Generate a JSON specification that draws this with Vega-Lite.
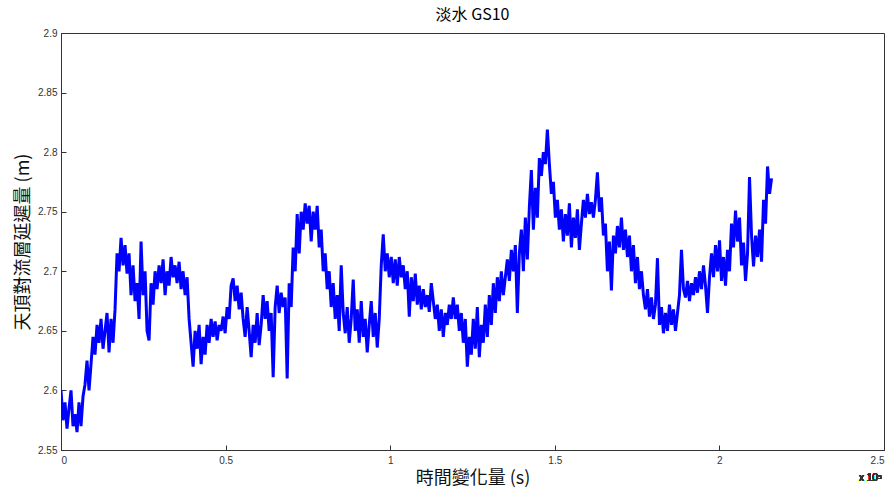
{
  "$schema": "https://vega.github.io/schema/vega-lite/v6.json",
  "autosize": {"type": "none"},
  "padding": {"left": 61, "top": 33, "right": 9, "bottom": 45},
  "width": 823,
  "height": 417,
  "background": "white",
  "title": {"text": "淡水 GS10", "font": "Noto Sans CJK TC", "fontSize": 16, "fontWeight": "normal", "color": "#000", "offset": 5, "anchor": "middle"},
  "config": {
    "view": {"stroke": "#333", "strokeWidth": 1},
    "axis": {"grid": false, "domainColor": "#333", "tickColor": "#333", "tickSize": -5, "labelFont": "Liberation Sans", "labelFontSize": 10, "labelColor": "#333", "titleFont": "Noto Sans CJK TC", "titleFontSize": 18, "titleFontWeight": "normal", "titleColor": "#111"}
  },
  "data": {"values": [
    {"t":0,"v":2.600},{"t":608,"v":2.575},{"t":1216,"v":2.590},{"t":1824,"v":2.568},{"t":2432,"v":2.585},{"t":3040,"v":2.600},{"t":3648,"v":2.570},{"t":4256,"v":2.580},{"t":4864,"v":2.565},{"t":5472,"v":2.590},
    {"t":6080,"v":2.570},{"t":6688,"v":2.595},{"t":7296,"v":2.605},{"t":7904,"v":2.625},{"t":8512,"v":2.600},{"t":9120,"v":2.622},{"t":9728,"v":2.645},{"t":10336,"v":2.630},{"t":10944,"v":2.655},{"t":11552,"v":2.640},
    {"t":12160,"v":2.660},{"t":12768,"v":2.635},{"t":13376,"v":2.650},{"t":13984,"v":2.665},{"t":14592,"v":2.632},{"t":15200,"v":2.660},{"t":15808,"v":2.640},{"t":16416,"v":2.668},{"t":17024,"v":2.715},{"t":17632,"v":2.700},
    {"t":18240,"v":2.728},{"t":18848,"v":2.705},{"t":19456,"v":2.722},{"t":20064,"v":2.698},{"t":20672,"v":2.715},{"t":21280,"v":2.680},{"t":21888,"v":2.705},{"t":22496,"v":2.675},{"t":23104,"v":2.690},{"t":23712,"v":2.660},
    {"t":24320,"v":2.725},{"t":24928,"v":2.680},{"t":25536,"v":2.700},{"t":26144,"v":2.650},{"t":26752,"v":2.642},{"t":27360,"v":2.690},{"t":27968,"v":2.672},{"t":28576,"v":2.700},{"t":29184,"v":2.685},{"t":29792,"v":2.705},
    {"t":30400,"v":2.690},{"t":31008,"v":2.710},{"t":31616,"v":2.680},{"t":32224,"v":2.700},{"t":32832,"v":2.688},{"t":33440,"v":2.712},{"t":34048,"v":2.695},{"t":34656,"v":2.705},{"t":35264,"v":2.690},{"t":35872,"v":2.708},
    {"t":36480,"v":2.685},{"t":37088,"v":2.700},{"t":37696,"v":2.680},{"t":38304,"v":2.695},{"t":38912,"v":2.660},{"t":39520,"v":2.640},{"t":40128,"v":2.620},{"t":40736,"v":2.650},{"t":41344,"v":2.635},{"t":41952,"v":2.655},
    {"t":42560,"v":2.622},{"t":43168,"v":2.645},{"t":43776,"v":2.630},{"t":44384,"v":2.655},{"t":44992,"v":2.640},{"t":45600,"v":2.660},{"t":46208,"v":2.645},{"t":46816,"v":2.658},{"t":47424,"v":2.642},{"t":48032,"v":2.655},
    {"t":48640,"v":2.650},{"t":49248,"v":2.662},{"t":49856,"v":2.648},{"t":50464,"v":2.670},{"t":51072,"v":2.660},{"t":51680,"v":2.688},{"t":52288,"v":2.694},{"t":52896,"v":2.675},{"t":53504,"v":2.688},{"t":54112,"v":2.668},
    {"t":54720,"v":2.682},{"t":55328,"v":2.660},{"t":55936,"v":2.645},{"t":56544,"v":2.670},{"t":57152,"v":2.650},{"t":57760,"v":2.628},{"t":58368,"v":2.655},{"t":58976,"v":2.640},{"t":59584,"v":2.665},{"t":60192,"v":2.638},
    {"t":60800,"v":2.655},{"t":61408,"v":2.680},{"t":62016,"v":2.660},{"t":62624,"v":2.675},{"t":63232,"v":2.650},{"t":63840,"v":2.665},{"t":64448,"v":2.611},{"t":65056,"v":2.670},{"t":65664,"v":2.688},{"t":66272,"v":2.665},
    {"t":66880,"v":2.682},{"t":67488,"v":2.670},{"t":68096,"v":2.678},{"t":68704,"v":2.610},{"t":69312,"v":2.690},{"t":69920,"v":2.670},{"t":70528,"v":2.720},{"t":71136,"v":2.700},{"t":71744,"v":2.748},{"t":72352,"v":2.715},
    {"t":72960,"v":2.750},{"t":73568,"v":2.735},{"t":74176,"v":2.757},{"t":74784,"v":2.740},{"t":75392,"v":2.755},{"t":76000,"v":2.725},{"t":76608,"v":2.750},{"t":77216,"v":2.735},{"t":77824,"v":2.755},{"t":78432,"v":2.720},
    {"t":79040,"v":2.735},{"t":79648,"v":2.700},{"t":80256,"v":2.715},{"t":80864,"v":2.685},{"t":81472,"v":2.700},{"t":82080,"v":2.670},{"t":82688,"v":2.690},{"t":83296,"v":2.660},{"t":83904,"v":2.680},{"t":84512,"v":2.650},
    {"t":85120,"v":2.705},{"t":85728,"v":2.665},{"t":86336,"v":2.648},{"t":86944,"v":2.670},{"t":87552,"v":2.640},{"t":88160,"v":2.660},{"t":88768,"v":2.693},{"t":89376,"v":2.650},{"t":89984,"v":2.668},{"t":90592,"v":2.640},
    {"t":91200,"v":2.675},{"t":91808,"v":2.645},{"t":92416,"v":2.660},{"t":93024,"v":2.632},{"t":93632,"v":2.655},{"t":94240,"v":2.675},{"t":94848,"v":2.645},{"t":95456,"v":2.665},{"t":96064,"v":2.636},{"t":96672,"v":2.660},
    {"t":97280,"v":2.705},{"t":97888,"v":2.731},{"t":98496,"v":2.700},{"t":99104,"v":2.715},{"t":99712,"v":2.695},{"t":100320,"v":2.712},{"t":100928,"v":2.690},{"t":101536,"v":2.710},{"t":102144,"v":2.688},{"t":102752,"v":2.712},
    {"t":103360,"v":2.695},{"t":103968,"v":2.705},{"t":104576,"v":2.685},{"t":105184,"v":2.700},{"t":105792,"v":2.662},{"t":106400,"v":2.695},{"t":107008,"v":2.675},{"t":107616,"v":2.698},{"t":108224,"v":2.672},{"t":108832,"v":2.688},
    {"t":109440,"v":2.668},{"t":110048,"v":2.685},{"t":110656,"v":2.670},{"t":111264,"v":2.680},{"t":111872,"v":2.666},{"t":112480,"v":2.690},{"t":113088,"v":2.675},{"t":113696,"v":2.660},{"t":114304,"v":2.672},{"t":114912,"v":2.650},
    {"t":115520,"v":2.668},{"t":116128,"v":2.645},{"t":116736,"v":2.665},{"t":117344,"v":2.655},{"t":117952,"v":2.672},{"t":118560,"v":2.660},{"t":119168,"v":2.678},{"t":119776,"v":2.660},{"t":120384,"v":2.672},{"t":120992,"v":2.650},
    {"t":121600,"v":2.665},{"t":122208,"v":2.640},{"t":122816,"v":2.660},{"t":123424,"v":2.620},{"t":124032,"v":2.645},{"t":124640,"v":2.630},{"t":125248,"v":2.660},{"t":125856,"v":2.635},{"t":126464,"v":2.670},{"t":127072,"v":2.628},
    {"t":127680,"v":2.655},{"t":128288,"v":2.640},{"t":128896,"v":2.672},{"t":129504,"v":2.645},{"t":130112,"v":2.680},{"t":130720,"v":2.655},{"t":131328,"v":2.690},{"t":131936,"v":2.665},{"t":132544,"v":2.695},{"t":133152,"v":2.675},
    {"t":133760,"v":2.700},{"t":134368,"v":2.680},{"t":134976,"v":2.695},{"t":135584,"v":2.710},{"t":136192,"v":2.692},{"t":136800,"v":2.718},{"t":137408,"v":2.700},{"t":138016,"v":2.722},{"t":138624,"v":2.665},{"t":139232,"v":2.715},
    {"t":139840,"v":2.735},{"t":140448,"v":2.700},{"t":141056,"v":2.745},{"t":141664,"v":2.710},{"t":142272,"v":2.754},{"t":142880,"v":2.785},{"t":143488,"v":2.735},{"t":144096,"v":2.770},{"t":144704,"v":2.745},{"t":145312,"v":2.795},
    {"t":145920,"v":2.780},{"t":146528,"v":2.800},{"t":147136,"v":2.790},{"t":147744,"v":2.819},{"t":148352,"v":2.790},{"t":148960,"v":2.765},{"t":149568,"v":2.775},{"t":150176,"v":2.745},{"t":150784,"v":2.760},{"t":151392,"v":2.735},
    {"t":152000,"v":2.752},{"t":152608,"v":2.725},{"t":153216,"v":2.748},{"t":153824,"v":2.730},{"t":154432,"v":2.757},{"t":155040,"v":2.720},{"t":155648,"v":2.745},{"t":156256,"v":2.728},{"t":156864,"v":2.752},{"t":157472,"v":2.718},
    {"t":158080,"v":2.740},{"t":158688,"v":2.760},{"t":159296,"v":2.745},{"t":159904,"v":2.765},{"t":160512,"v":2.748},{"t":161120,"v":2.758},{"t":161728,"v":2.745},{"t":162336,"v":2.760},{"t":162944,"v":2.783},{"t":163552,"v":2.750},
    {"t":164160,"v":2.762},{"t":164768,"v":2.730},{"t":165376,"v":2.740},{"t":165984,"v":2.700},{"t":166592,"v":2.725},{"t":167200,"v":2.684},{"t":167808,"v":2.730},{"t":168416,"v":2.715},{"t":169024,"v":2.738},{"t":169632,"v":2.720},
    {"t":170240,"v":2.745},{"t":170848,"v":2.718},{"t":171456,"v":2.735},{"t":172064,"v":2.712},{"t":172672,"v":2.730},{"t":173280,"v":2.700},{"t":173888,"v":2.722},{"t":174496,"v":2.690},{"t":175104,"v":2.712},{"t":175712,"v":2.685},
    {"t":176320,"v":2.700},{"t":176928,"v":2.680},{"t":177536,"v":2.668},{"t":178144,"v":2.685},{"t":178752,"v":2.662},{"t":179360,"v":2.678},{"t":179968,"v":2.660},{"t":180576,"v":2.672},{"t":181184,"v":2.711},{"t":181792,"v":2.655},
    {"t":182400,"v":2.670},{"t":183008,"v":2.648},{"t":183616,"v":2.665},{"t":184224,"v":2.650},{"t":184832,"v":2.672},{"t":185440,"v":2.655},{"t":186048,"v":2.668},{"t":186656,"v":2.650},{"t":187264,"v":2.665},{"t":187872,"v":2.680},
    {"t":188480,"v":2.718},{"t":189088,"v":2.685},{"t":189696,"v":2.678},{"t":190304,"v":2.692},{"t":190912,"v":2.675},{"t":191520,"v":2.690},{"t":192128,"v":2.680},{"t":192736,"v":2.695},{"t":193344,"v":2.682},{"t":193952,"v":2.700},
    {"t":194560,"v":2.685},{"t":195168,"v":2.705},{"t":195776,"v":2.688},{"t":196384,"v":2.665},{"t":196992,"v":2.695},{"t":197600,"v":2.715},{"t":198208,"v":2.695},{"t":198816,"v":2.722},{"t":199424,"v":2.700},{"t":200032,"v":2.726},
    {"t":200640,"v":2.692},{"t":201248,"v":2.712},{"t":201856,"v":2.688},{"t":202464,"v":2.718},{"t":203072,"v":2.700},{"t":203680,"v":2.740},{"t":204288,"v":2.720},{"t":204896,"v":2.751},{"t":205504,"v":2.725},{"t":206112,"v":2.745},
    {"t":206720,"v":2.705},{"t":207328,"v":2.724},{"t":207936,"v":2.692},{"t":208544,"v":2.715},{"t":209152,"v":2.779},{"t":209760,"v":2.730},{"t":210368,"v":2.704},{"t":210976,"v":2.730},{"t":211584,"v":2.712},{"t":212192,"v":2.735},
    {"t":212800,"v":2.708},{"t":213408,"v":2.760},{"t":214016,"v":2.740},{"t":214624,"v":2.788},{"t":215232,"v":2.765},{"t":215840,"v":2.778}
  ]},
  "layer": [
    {
      "mark": {"type": "line", "color": "#0000ff", "strokeWidth": 3, "clip": true},
      "encoding": {
        "x": {"field": "t", "type": "quantitative", "scale": {"domain": [0, 250000], "nice": false, "zero": false},
          "axis": {"title": "時間變化量 (s)", "values": [0, 50000, 100000, 150000, 200000, 250000], "labelExpr": "format(datum.value / 100000, '~g')", "labelPadding": 10, "titlePadding": 4}},
        "y": {"field": "v", "type": "quantitative", "scale": {"domain": [2.55, 2.9], "nice": false, "zero": false},
          "axis": {"title": "天頂對流層延遲量 (m)", "values": [2.55, 2.6, 2.65, 2.7, 2.75, 2.8, 2.85, 2.9], "format": ".2~f", "labelPadding": 9, "titlePadding": 5}}
      }
    },
    {
      "mark": {"type": "text", "text": "x 10⁵", "align": "right", "baseline": "middle", "dy": 28, "dx": -2, "font": "Liberation Sans", "fontSize": 10, "fontWeight": "normal", "color": "#333"},
      "encoding": {"x": {"datum": 250000}, "y": {"datum": 2.55}}
    }
  ]
}
